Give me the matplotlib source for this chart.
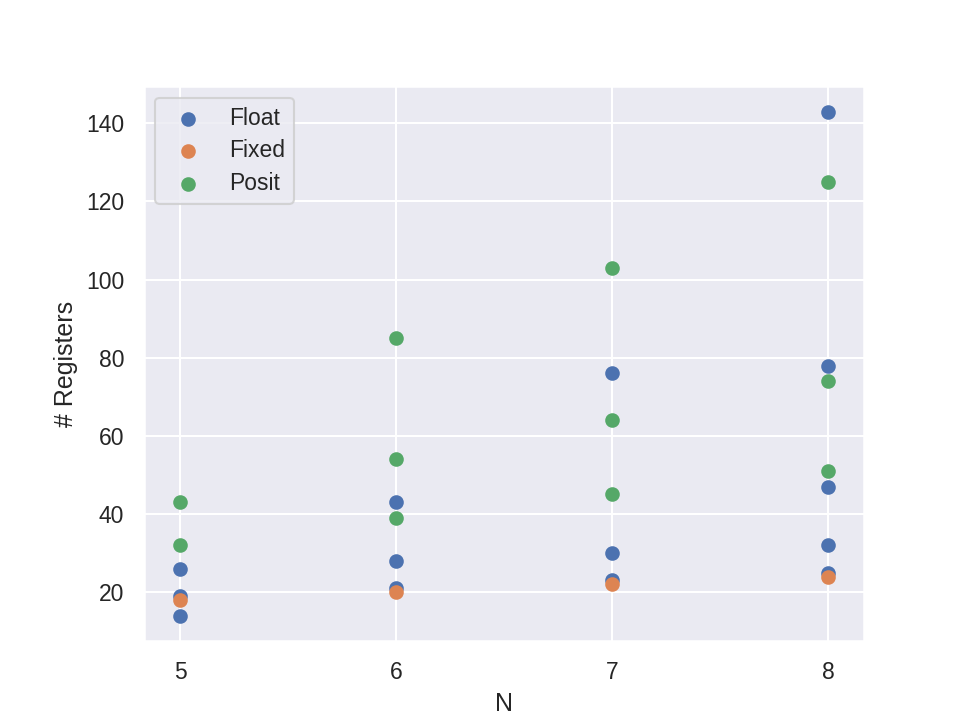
import numpy as np
import seaborn as sns
from matplotlib import pyplot as plt

# N -> register counts per format
float_n = [5, 5, 5, 6, 6, 6, 7, 7, 7, 8, 8, 8, 8, 8]
float_regs = [14, 19, 26, 21, 28, 43, 23, 30, 76, 25, 32, 47, 78, 143]

fixed_n = [5, 6, 7, 8]
fixed_regs = [18, 20, 22, 24]

posit_n = [5, 5, 6, 6, 6, 7, 7, 7, 8, 8, 8]
posit_regs = [32, 43, 39, 54, 85, 45, 64, 103, 51, 74, 125]

sns.set_theme()
plt.rcParams['font.family'] = ['Liberation Sans', 'DejaVu Sans']

fig, ax = plt.subplots(figsize=(6.4, 4.8), dpi=150)
fig.subplots_adjust(left=0.15)

ax.scatter(float_n, float_regs, label='Float')
ax.scatter(fixed_n, fixed_regs, label='Fixed')
ax.scatter(posit_n, posit_regs, label='Posit')

ax.set_xticks([5, 6, 7, 8])
ax.set_xlim(4.833, 8.167)
ax.set_xlabel('N')
ax.set_ylabel('# Registers')
ax.legend(loc='upper left', labelspacing=0.41)

fig.savefig('out.png', dpi=150)
